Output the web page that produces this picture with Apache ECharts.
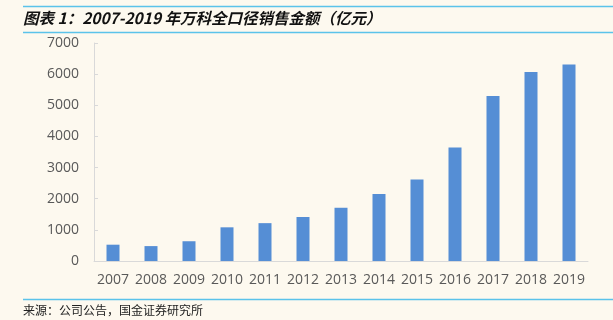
<!DOCTYPE html>
<html><head><meta charset="utf-8">
<script src="https://cdn.jsdelivr.net/npm/echarts@6/dist/echarts.min.js"></script>
<style>html,body{margin:0;padding:0;background:#fdf9ef;}#c{width:613px;height:320px;}</style>
</head><body><div id="c"></div>
<script>
var years = ['2007','2008','2009','2010','2011','2012','2013','2014','2015','2016','2017','2018','2019'];
var sales = [523.6, 478.7, 634.4, 1081.6, 1215.4, 1412.3, 1709.4, 2151.3, 2614.7, 3647.7, 5298.8, 6069.5, 6308.4];
var titleText = '图表 1：2007-2019 年万科全口径销售金额（亿元）';
var sourceText = '来源：公司公告，国金证券研究所';

var chart = echarts.init(document.getElementById('c'));
chart.setOption({
  backgroundColor: '#fdf9ef',
  animation: false,
  graphic: [
    {type:'line', shape:{x1:23,y1:6.5,x2:613,y2:6.5}, style:{stroke:'#5bc3ea',lineWidth:1.5}},
    {type:'line', shape:{x1:23,y1:32.5,x2:613,y2:32.5}, style:{stroke:'#5bc3ea',lineWidth:1.5}},
    {type:'line', shape:{x1:23,y1:299.5,x2:613,y2:299.5}, style:{stroke:'#5bc3ea',lineWidth:1.5}},
    {type:'text', left:23, top:10, style:{text:titleText, font:'italic bold 15.5px "Noto Sans CJK SC", sans-serif', fill:'#111'}},
    {type:'text', left:23, top:304, style:{text:sourceText, font:'12px "Noto Sans CJK SC", serif', fill:'#222'}}
  ],
  grid: {left:94, right:25, top:43, bottom:59},
  xAxis: {
    type:'category', data: years,
    axisLine:{lineStyle:{color:'#d9d9d9'}},
    axisTick:{show:false},
    axisLabel:{color:'#595959', fontSize:14, fontFamily:'"Open Sans", sans-serif', margin:12, interval:0}
  },
  yAxis: {
    type:'value', min:0, max:7000, interval:1000,
    axisLine:{show:true, lineStyle:{color:'#d9d9d9'}},
    axisTick:{show:true, inside:true, length:4, lineStyle:{color:'#d9d9d9'}},
    splitLine:{show:false},
    axisLabel:{color:'#595959', fontSize:14, fontFamily:'"Open Sans", sans-serif', margin:15, formatter: function(v){return String(v);}}
  },
  series: [{
    type:'bar', data: sales, barWidth:13,
    itemStyle:{color:'#558ed5'}
  }]
});
</script></body></html>
